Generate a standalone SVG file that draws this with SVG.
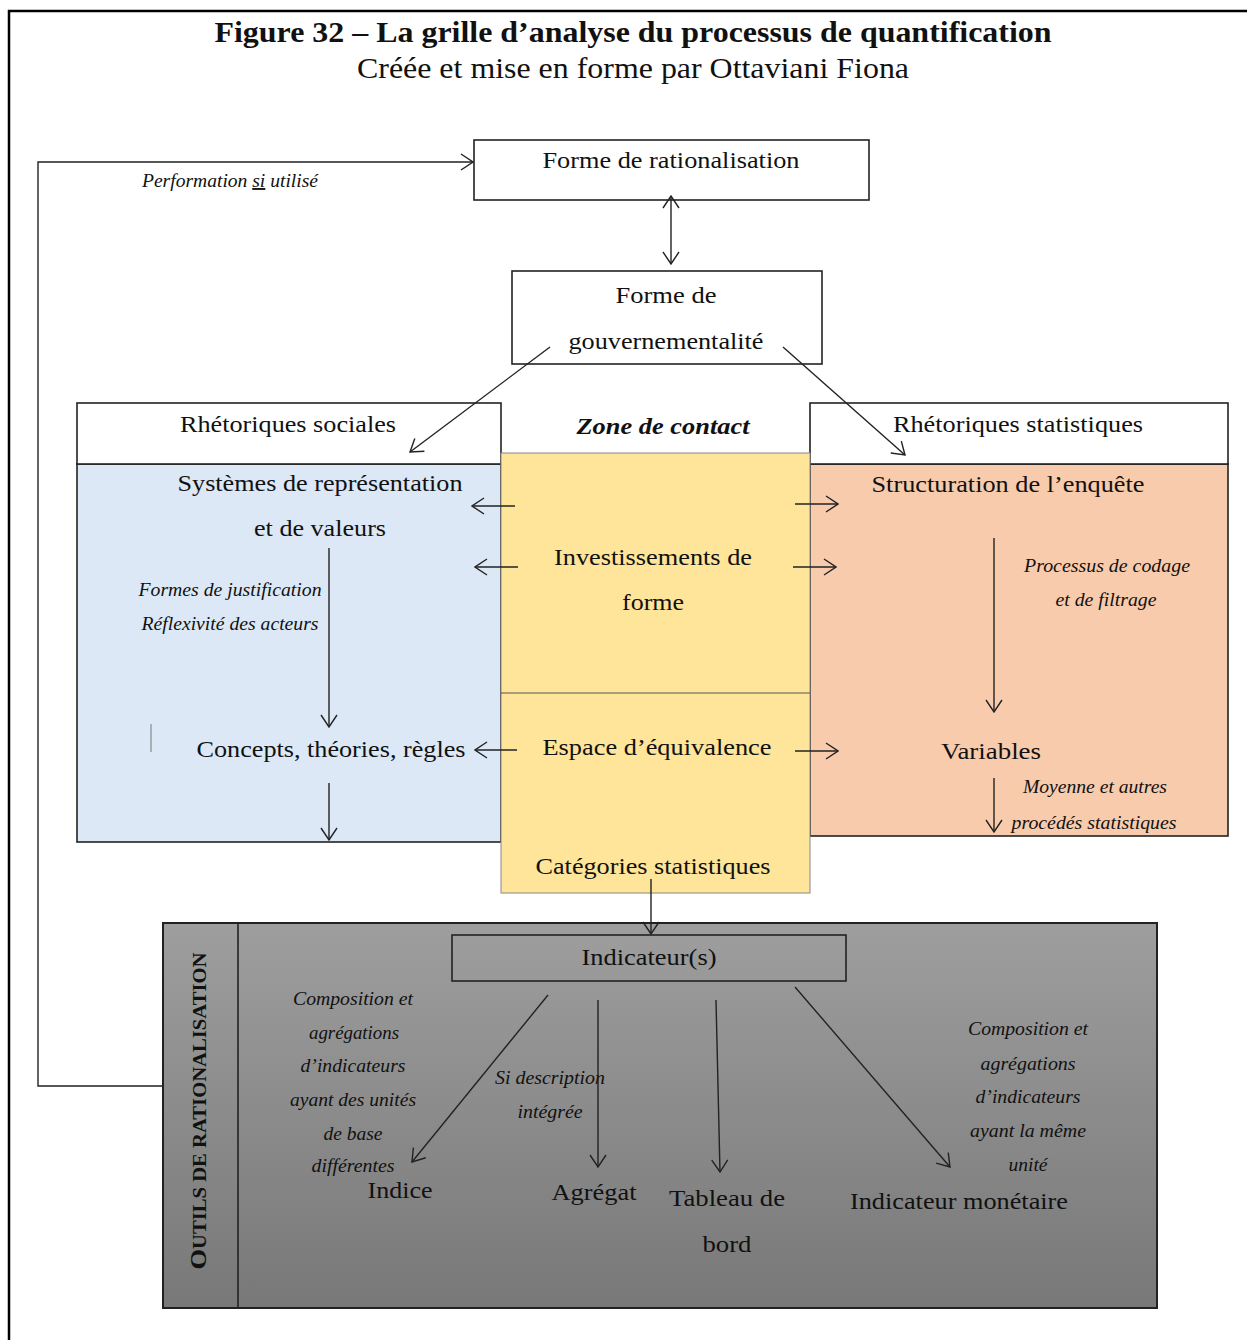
<svg xmlns="http://www.w3.org/2000/svg" width="1247" height="1340" viewBox="0 0 1247 1340">
<defs>
<style>
text{font-family:"Liberation Serif","Times New Roman",serif;fill:#111;}
.t{font-size:23px;text-anchor:middle;}
.i{font-size:19px;font-style:italic;text-anchor:middle;}
.box{stroke:#222;stroke-width:1.6;}
.ln{stroke:#222;stroke-width:1.4;fill:none;marker-end:url(#ah);}
</style>
<marker id="ah" markerUnits="userSpaceOnUse" markerWidth="14" markerHeight="18" viewBox="0 0 14 18" refX="13" refY="9" orient="auto-start-reverse">
<path d="M1,1 L13,9 L1,17" fill="none" stroke="#222" stroke-width="1.4"/>
</marker>
<linearGradient id="gray" x1="0" y1="0" x2="0" y2="1">
<stop offset="0" stop-color="#9e9e9e"/>
<stop offset="1" stop-color="#787878"/>
</linearGradient>
</defs>
<rect width="1247" height="1340" fill="#fff"/>
<path d="M9,1340 V11 H1247" fill="none" stroke="#000" stroke-width="2.5"/>
<g id="title">
<text x="633" y="42" style="font-size:30px;font-weight:bold;text-anchor:middle" textLength="837" lengthAdjust="spacingAndGlyphs">Figure 32 – La grille d’analyse du processus de quantification</text>
<text x="633" y="78" style="font-size:30px;text-anchor:middle" textLength="552" lengthAdjust="spacingAndGlyphs">Créée et mise en forme par Ottaviani Fiona</text>
</g>
<g id="n-rationalisation">
<rect x="474" y="140" width="395" height="60" fill="#fff" class="box"/>
<text x="671" y="168" class="t" textLength="257" lengthAdjust="spacingAndGlyphs">Forme de rationalisation</text>
</g>
<g id="n-gouvernementalite">
<rect x="512" y="271" width="310" height="93" fill="#fff" class="box"/>
<text x="666" y="303" class="t" textLength="101" lengthAdjust="spacingAndGlyphs">Forme de</text>
<text x="666" y="349" class="t" textLength="195" lengthAdjust="spacingAndGlyphs">gouvernementalité</text>
</g>
<g id="n-sociales">
<rect x="77" y="464" width="424" height="378" fill="#dce8f5" class="box"/>
<rect x="77" y="403" width="424" height="61" fill="#fff" class="box"/>
<text x="288" y="432" class="t" textLength="216" lengthAdjust="spacingAndGlyphs">Rhétoriques sociales</text>
<text x="320" y="491" class="t" textLength="285" lengthAdjust="spacingAndGlyphs">Systèmes de représentation</text>
<text x="320" y="536" class="t" textLength="132" lengthAdjust="spacingAndGlyphs">et de valeurs</text>
<text x="230" y="596" class="i" textLength="183" lengthAdjust="spacingAndGlyphs">Formes de justification</text>
<text x="230" y="630" class="i" textLength="177" lengthAdjust="spacingAndGlyphs">Réflexivité des acteurs</text>
<line x1="151" y1="724" x2="151" y2="752" stroke="#777" stroke-width="1"/>
<text x="331" y="757" class="t" textLength="269" lengthAdjust="spacingAndGlyphs">Concepts, théories, règles</text>
</g>
<g id="n-statistiques">
<rect x="810" y="464" width="418" height="372" fill="#f8cbad" class="box"/>
<rect x="810" y="403" width="418" height="61" fill="#fff" class="box"/>
<text x="1018" y="432" class="t" textLength="250" lengthAdjust="spacingAndGlyphs">Rhétoriques statistiques</text>
<text x="1008" y="492" class="t" textLength="273" lengthAdjust="spacingAndGlyphs">Structuration de l’enquête</text>
<text x="1107" y="572" class="i" textLength="166" lengthAdjust="spacingAndGlyphs">Processus de codage</text>
<text x="1106" y="606" class="i" textLength="101" lengthAdjust="spacingAndGlyphs">et de filtrage</text>
<text x="991" y="759" class="t" textLength="100" lengthAdjust="spacingAndGlyphs">Variables</text>
<text x="1095" y="793" class="i" textLength="144" lengthAdjust="spacingAndGlyphs">Moyenne et autres</text>
<text x="1094" y="829" class="i" textLength="165" lengthAdjust="spacingAndGlyphs">procédés statistiques</text>
</g>
<g id="n-contact">
<rect x="501" y="453" width="309" height="440" fill="#fee599" stroke="#888" stroke-width="1"/>
<line x1="501" y1="693" x2="810" y2="693" stroke="#555" stroke-width="1"/>
<text x="663" y="434" class="t" style="font-weight:bold;font-style:italic" textLength="173" lengthAdjust="spacingAndGlyphs">Zone de contact</text>
<text x="653" y="565" class="t" textLength="198" lengthAdjust="spacingAndGlyphs">Investissements de</text>
<text x="653" y="610" class="t" textLength="62" lengthAdjust="spacingAndGlyphs">forme</text>
<text x="657" y="755" class="t" textLength="229" lengthAdjust="spacingAndGlyphs">Espace d’équivalence</text>
<text x="653" y="874" class="t" textLength="235" lengthAdjust="spacingAndGlyphs">Catégories statistiques</text>
</g>
<g id="n-outils">
<rect x="163" y="923" width="994" height="385" fill="url(#gray)" stroke="#222" stroke-width="2"/>
<rect x="163" y="923" width="75" height="385" fill="none" stroke="#222" stroke-width="1.6"/>
<text transform="translate(206,1111) rotate(-90)" style="font-weight:bold;text-anchor:middle;font-size:18px" textLength="317" lengthAdjust="spacingAndGlyphs"><tspan style="font-size:23px">O</tspan>UTILS DE RATIONALISATION</text>
<rect x="452" y="935" width="394" height="46" fill="none" stroke="#222" stroke-width="1.6"/>
<text x="649" y="965" class="t" textLength="135" lengthAdjust="spacingAndGlyphs">Indicateur(s)</text>
<text x="353" y="1005" class="i" textLength="120" lengthAdjust="spacingAndGlyphs">Composition et</text>
<text x="354" y="1039" class="i" textLength="90" lengthAdjust="spacingAndGlyphs">agrégations</text>
<text x="353" y="1072" class="i" textLength="105" lengthAdjust="spacingAndGlyphs">d’indicateurs</text>
<text x="353" y="1106" class="i" textLength="126" lengthAdjust="spacingAndGlyphs">ayant des unités</text>
<text x="353" y="1140" class="i" textLength="59" lengthAdjust="spacingAndGlyphs">de base</text>
<text x="353" y="1172" class="i" textLength="83" lengthAdjust="spacingAndGlyphs">différentes</text>
<text x="550" y="1084" class="i" textLength="110" lengthAdjust="spacingAndGlyphs">Si description</text>
<text x="550" y="1118" class="i" textLength="65" lengthAdjust="spacingAndGlyphs">intégrée</text>
<text x="400" y="1198" class="t" textLength="65" lengthAdjust="spacingAndGlyphs">Indice</text>
<text x="594" y="1200" class="t" textLength="85" lengthAdjust="spacingAndGlyphs">Agrégat</text>
<text x="727" y="1206" class="t" textLength="116" lengthAdjust="spacingAndGlyphs">Tableau de</text>
<text x="727" y="1252" class="t" textLength="49" lengthAdjust="spacingAndGlyphs">bord</text>
<text x="959" y="1209" class="t" textLength="218" lengthAdjust="spacingAndGlyphs">Indicateur monétaire</text>
<text x="1028" y="1035" class="i" textLength="120" lengthAdjust="spacingAndGlyphs">Composition et</text>
<text x="1028" y="1070" class="i" textLength="95" lengthAdjust="spacingAndGlyphs">agrégations</text>
<text x="1028" y="1103" class="i" textLength="105" lengthAdjust="spacingAndGlyphs">d’indicateurs</text>
<text x="1028" y="1137" class="i" textLength="116" lengthAdjust="spacingAndGlyphs">ayant la même</text>
<text x="1028" y="1171" class="i" textLength="39" lengthAdjust="spacingAndGlyphs">unité</text>
</g>
<g id="connectors">
<path class="ln" d="M163,1086 H38 V162 H473"/>
<text x="142" y="187" class="i" style="text-anchor:start" textLength="176" lengthAdjust="spacingAndGlyphs">Performation <tspan text-decoration="underline">si</tspan> utilisé</text>
<line class="ln" x1="671" y1="264" x2="671" y2="196" style="marker-start:url(#ah)"/>
<line class="ln" x1="550" y1="347" x2="410" y2="452"/>
<line class="ln" x1="783" y1="347" x2="905" y2="455"/>
<line class="ln" x1="515" y1="506" x2="472" y2="506"/>
<line class="ln" x1="518" y1="567" x2="475" y2="567"/>
<line class="ln" x1="517" y1="750" x2="475" y2="750"/>
<line class="ln" x1="795" y1="504" x2="838" y2="504"/>
<line class="ln" x1="793" y1="567" x2="836" y2="567"/>
<line class="ln" x1="795" y1="751" x2="838" y2="751"/>
<line class="ln" x1="329" y1="548" x2="329" y2="727"/>
<line class="ln" x1="329" y1="783" x2="329" y2="840"/>
<line class="ln" x1="994" y1="538" x2="994" y2="712"/>
<line class="ln" x1="994" y1="778" x2="994" y2="832"/>
<line class="ln" x1="651" y1="879" x2="651" y2="934"/>
<line class="ln" x1="548" y1="995" x2="412" y2="1162"/>
<line class="ln" x1="598" y1="1000" x2="598" y2="1167"/>
<line class="ln" x1="716" y1="1000" x2="720" y2="1172"/>
<line class="ln" x1="795" y1="987" x2="950" y2="1167"/>
</g>
</svg>
